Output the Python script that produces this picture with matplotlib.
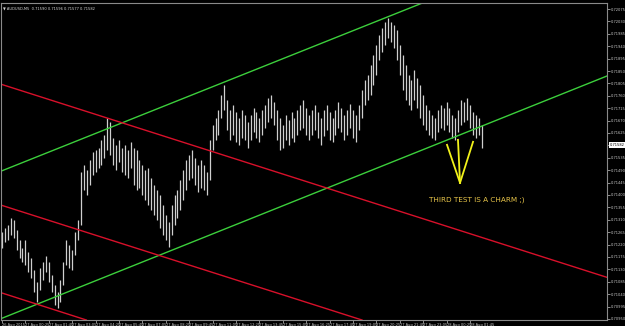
import numpy as np
import matplotlib
matplotlib.use("Agg")
import matplotlib.pyplot as plt
import matplotlib.transforms as mtransforms

# ---- data (M5 bars, one plotted bar per two M5 periods) ----
highs = [0.71266,0.71280,0.71291,0.71317,0.71309,0.71273,0.71237,0.71208,0.71237,0.71193,
         0.71171,0.71128,0.71084,0.71135,0.71157,0.71179,0.71157,0.71110,0.71073,0.71048,
         0.71092,0.71157,0.71237,0.71219,0.71200,0.71266,0.71309,0.71484,0.71509,0.71491,
         0.71527,0.71556,0.71563,0.71571,0.71600,0.71618,0.71680,0.71665,0.71607,0.71582,
         0.71600,0.71571,0.71582,0.71563,0.71593,0.71571,0.71563,0.71527,0.71509,0.71491,
         0.71498,0.71462,0.71436,0.71418,0.71400,0.71364,0.71328,0.71302,0.71364,0.71400,
         0.71418,0.71455,0.71491,0.71527,0.71545,0.71563,0.71534,0.71509,0.71527,0.71509,
         0.71484,0.71600,0.71654,0.71680,0.71709,0.71763,0.71799,0.71745,0.71709,0.71727,
         0.71701,0.71680,0.71709,0.71691,0.71665,0.71691,0.71716,0.71701,0.71680,0.71709,
         0.71727,0.71752,0.71763,0.71738,0.71709,0.71680,0.71654,0.71691,0.71672,0.71701,
         0.71680,0.71709,0.71727,0.71745,0.71716,0.71691,0.71709,0.71727,0.71701,0.71680,
         0.71709,0.71727,0.71701,0.71680,0.71709,0.71738,0.71716,0.71691,0.71709,0.71730,
         0.71709,0.71691,0.71727,0.71781,0.71818,0.71836,0.71872,0.71908,0.71945,0.71981,
         0.72006,0.72028,0.72043,0.72028,0.72017,0.71999,0.71945,0.71908,0.71872,0.71836,
         0.71818,0.71854,0.71825,0.71799,0.71763,0.71727,0.71709,0.71691,0.71680,0.71709,
         0.71727,0.71716,0.71738,0.71716,0.71691,0.71680,0.71709,0.71745,0.71738,0.71752,
         0.71727,0.71701,0.71691,0.71680,0.71654]
lows = [0.71208,0.71229,0.71237,0.71255,0.71244,0.71200,0.71171,0.71157,0.71146,0.71121,
        0.71099,0.71048,0.71012,0.71055,0.71092,0.71121,0.71084,0.71048,0.71001,0.70990,
        0.71012,0.71073,0.71146,0.71135,0.71128,0.71182,0.71237,0.71291,0.71418,0.71400,
        0.71436,0.71473,0.71484,0.71498,0.71509,0.71534,0.71563,0.71545,0.71509,0.71491,
        0.71520,0.71484,0.71473,0.71462,0.71498,0.71436,0.71418,0.71426,0.71400,0.71382,
        0.71364,0.71346,0.71328,0.71309,0.71280,0.71255,0.71237,0.71211,0.71255,0.71291,
        0.71317,0.71346,0.71382,0.71418,0.71455,0.71462,0.71436,0.71411,0.71426,0.71418,
        0.71400,0.71455,0.71563,0.71600,0.71618,0.71680,0.71709,0.71636,0.71600,0.71618,
        0.71593,0.71582,0.71607,0.71600,0.71571,0.71600,0.71629,0.71607,0.71593,0.71618,
        0.71643,0.71665,0.71680,0.71654,0.71600,0.71563,0.71571,0.71600,0.71582,0.71607,
        0.71593,0.71618,0.71636,0.71643,0.71618,0.71600,0.71618,0.71636,0.71607,0.71582,
        0.71614,0.71636,0.71600,0.71593,0.71618,0.71643,0.71629,0.71600,0.71618,0.71643,
        0.71607,0.71593,0.71636,0.71680,0.71727,0.71745,0.71763,0.71799,0.71836,0.71890,
        0.71919,0.71945,0.71970,0.71956,0.71934,0.71890,0.71836,0.71781,0.71745,0.71727,
        0.71709,0.71745,0.71716,0.71680,0.71654,0.71636,0.71618,0.71607,0.71600,0.71629,
        0.71643,0.71636,0.71654,0.71629,0.71607,0.71600,0.71629,0.71654,0.71665,0.71672,
        0.71643,0.71618,0.71607,0.71618,0.71571]
bar_step = 2  # M5 periods per plotted bar
last_price = 0.71582

time_labels = ["26 Aug 2015", "27 Aug 00:25", "27 Aug 01:45", "27 Aug 03:05", "27 Aug 04:25",
               "27 Aug 05:45", "27 Aug 07:05", "27 Aug 08:25", "27 Aug 09:45", "27 Aug 11:05",
               "27 Aug 12:25", "27 Aug 13:45", "27 Aug 15:05", "27 Aug 16:25", "27 Aug 17:45",
               "27 Aug 19:05", "27 Aug 20:25", "27 Aug 21:45", "27 Aug 23:05", "28 Aug 00:25",
               "28 Aug 01:45"]
time_label_step = 16  # M5 bars between labels

price_ticks = [0.70950 + 0.00045 * k for k in range(26)]

# trend lines: (bar, price) anchor pairs
green_upper = [(71.8, 0.71640), (265.3, 0.72050)]
green_lower = [(14.4, 0.70983), (413.7, 0.71832)]
red_top = [(0, 0.71801), (400, 0.71124)]
red_mid = [(0, 0.71362), (200, 0.71024)]
red_bot = [(0, 0.71044), (100, 0.70874)]
yellow_tip = (313.2, 0.71444)
yellow_starts = [(304.3, 0.71582), (311.8, 0.71600), (322.1, 0.71593)]
note_text = "THIRD TEST IS A CHARM ;)"
note_pos = (324.8, 0.71382)

title = "AUDUSD,M5  0.71590 0.71596 0.71577 0.71582"

# ---- figure ----
W, H = 625, 326
fig = plt.figure(figsize=(W / 100, H / 100), dpi=100, facecolor="black")
ax = fig.add_axes([1 / W, 6 / H, 606 / W, 317 / H], facecolor="black")

x = np.arange(len(highs)) * bar_step
ax.vlines(x, lows, highs, colors="#cfcfcf", linewidth=0.9)

for (p1, p2), col in [((green_upper[0], green_upper[1]), "#3ccf3c"),
                      ((green_lower[0], green_lower[1]), "#3ccf3c"),
                      ((red_top[0], red_top[1]), "#d8102a"),
                      ((red_mid[0], red_mid[1]), "#d8102a"),
                      ((red_bot[0], red_bot[1]), "#d8102a")]:
    ax.axline(p1, p2, color=col, linewidth=1.0)

for s in yellow_starts:
    ax.plot([s[0], yellow_tip[0]], [s[1], yellow_tip[1]], color="#f2f21a", linewidth=1.3)

ax.text(note_pos[0], note_pos[1], note_text, color="#e8c54a", fontsize=5.2,
        ha="center", va="center")

ax.set_xlim(-0.68, 413.7)
ax.set_ylim(0.70946, 0.72097)

ax.set_xticks(np.arange(len(time_labels)) * time_label_step)
ax.set_xticklabels(time_labels)
for lab in ax.get_xticklabels():
    lab.set_ha("left")
# the tick label hidden behind the current-price box is left blank
ytick_labels = [("" if abs(v - last_price) < 0.0002 else f"{v:.5f}") for v in price_ticks]
ax.set_yticks(price_ticks)
ax.set_yticklabels(ytick_labels)
ax.yaxis.tick_right()
ax.tick_params(axis="both", colors="#c8c8c8", labelsize=2.6, length=2, width=0.5, pad=1)
ax.tick_params(axis="x", pad=0.5)

for sp in ax.spines.values():
    sp.set_color("#8a8a8a")
    sp.set_linewidth(0.8)

trans = mtransforms.blended_transform_factory(ax.transAxes, ax.transData)
ax.text(1.004, last_price, f"{last_price:.5f}", transform=trans, fontsize=2.6,
        color="black", va="center", ha="left",
        bbox=dict(facecolor="white", edgecolor="none", pad=0.6))

fig.text(3 / W, 1 - 9 / H, "\u25bc " + title, color="#d8d8d8", fontsize=2.6,
         ha="left", va="center")

fig.savefig("out.png", dpi=100, facecolor="black")
